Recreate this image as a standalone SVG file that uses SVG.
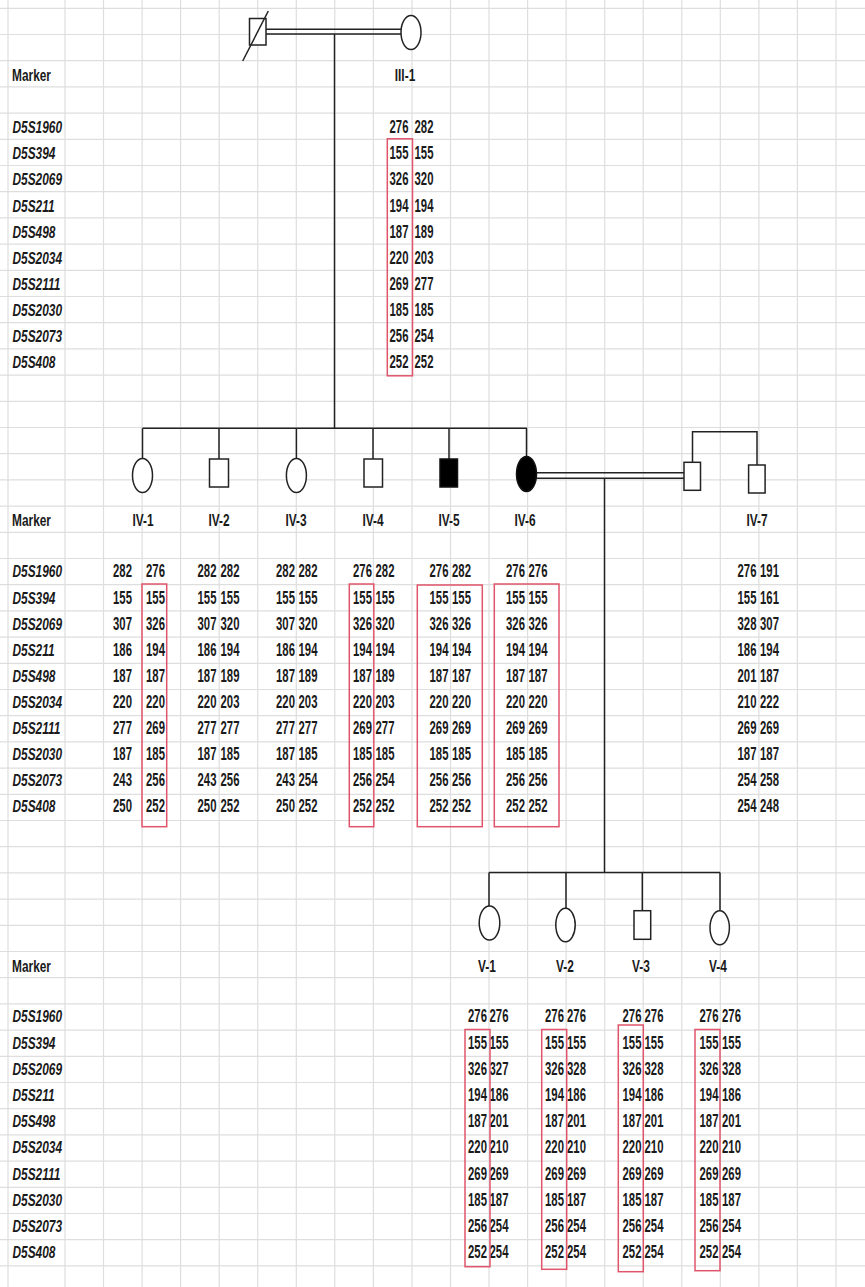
<svg xmlns="http://www.w3.org/2000/svg" width="865" height="1287" viewBox="0 0 865 1287">
<style>
.grid{stroke:#dedede;stroke-width:1.2;fill:none}
.ln{stroke:#222;stroke-width:1.5;fill:none}
.sym{stroke:#222;stroke-width:1.5;fill:#fff}
.aff{stroke:#111;stroke-width:1.5;fill:#000}
.box{stroke:#e0556b;stroke-width:1.5;fill:none}
text{font-family:"Liberation Sans",Arial,sans-serif;font-size:17px;font-weight:bold;fill:#1a1a1a;text-anchor:middle}
.n{font-size:18px}
.m{font-style:italic;text-anchor:start}
.h{text-anchor:start}
</style>
<rect width="865" height="1287" fill="#fff"/>
<path class="grid" d="M0 8.3H865M0 34.5H865M0 60.7H865M0 86.9H865M0 113.1H865M0 139.3H865M0 165.5H865M0 191.7H865M0 217.9H865M0 244.1H865M0 270.3H865M0 296.5H865M0 322.7H865M0 348.9H865M0 375.1H865M0 401.3H865M0 427.5H865M0 453.7H865M0 479.9H865M0 506.1H865M0 532.3H865M0 558.5H865M0 584.7H865M0 610.9H865M0 637.1H865M0 663.3H865M0 689.5H865M0 715.7H865M0 741.9H865M0 768.1H865M0 794.3H865M0 820.5H865M0 846.7H865M0 872.9H865M0 899.1H865M0 925.3H865M0 951.5H865M0 977.7H865M0 1003.9H865M0 1030.1H865M0 1056.3H865M0 1082.5H865M0 1108.7H865M0 1134.9H865M0 1161.1H865M0 1187.3H865M0 1213.5H865M0 1239.7H865M0 1265.9H865M8 0V1287M65 0V1287M103.5 0V1287M142.1 0V1287M180.6 0V1287M219.2 0V1287M257.7 0V1287M296.3 0V1287M334.8 0V1287M373.4 0V1287M412 0V1287M450.5 0V1287M489 0V1287M527.6 0V1287M566.1 0V1287M604.7 0V1287M643.2 0V1287M681.8 0V1287M720.3 0V1287M758.9 0V1287M797.4 0V1287M836 0V1287"/>

<g id="connectors">
<path class="ln" d="M266 29.3H401M266 34H401"/>
<path class="ln" d="M334.5 34V428.3"/>
<path class="ln" d="M142.5 428.3H527M142.5 428.3V458.5M219 428.3V459M296.4 428.3V458.5M373 428.3V459M449 428.3V459M526.5 428.3V457"/>
<path class="ln" d="M536.5 472.7H684M536.5 478.3H684"/>
<path class="ln" d="M604.5 478.3V872.5"/>
<path class="ln" d="M692.5 462.3V431.7H757V465"/>
<path class="ln" d="M489 872.5H720M489 872.5V906M566 872.5V908.3M642.3 872.5V910.7M720 872.5V910.7"/>
</g>

<g id="markers">
<g transform="translate(12 0) scale(.7 1)"><text class="h" x="0" y="81.5">Marker</text><text class="h" x="0" y="526">Marker</text><text class="h" x="0" y="972">Marker</text></g>
<g transform="translate(12.5 0) scale(.7 1)">
<text class="m" y="133.3"><tspan x="0">D5S1960</tspan><tspan x="0" dy="26.1">D5S394</tspan><tspan x="0" dy="26.1">D5S2069</tspan><tspan x="0" dy="26.1">D5S211</tspan><tspan x="0" dy="26.1">D5S498</tspan><tspan x="0" dy="26.1">D5S2034</tspan><tspan x="0" dy="26.1">D5S2111</tspan><tspan x="0" dy="26.1">D5S2030</tspan><tspan x="0" dy="26.1">D5S2073</tspan><tspan x="0" dy="26.1">D5S408</tspan></text>
<text class="m" y="577.5"><tspan x="0">D5S1960</tspan><tspan x="0" dy="26.1">D5S394</tspan><tspan x="0" dy="26.1">D5S2069</tspan><tspan x="0" dy="26.1">D5S211</tspan><tspan x="0" dy="26.1">D5S498</tspan><tspan x="0" dy="26.1">D5S2034</tspan><tspan x="0" dy="26.1">D5S2111</tspan><tspan x="0" dy="26.1">D5S2030</tspan><tspan x="0" dy="26.1">D5S2073</tspan><tspan x="0" dy="26.1">D5S408</tspan></text>
<text class="m" y="1022.5"><tspan x="0">D5S1960</tspan><tspan x="0" dy="26.2">D5S394</tspan><tspan x="0" dy="26.2">D5S2069</tspan><tspan x="0" dy="26.2">D5S211</tspan><tspan x="0" dy="26.2">D5S498</tspan><tspan x="0" dy="26.2">D5S2034</tspan><tspan x="0" dy="26.2">D5S2111</tspan><tspan x="0" dy="26.2">D5S2030</tspan><tspan x="0" dy="26.2">D5S2073</tspan><tspan x="0" dy="26.2">D5S408</tspan></text>
</g>
</g>

<g id="III-father">
<rect class="sym" x="249.5" y="18.5" width="16.5" height="26.5"/>
<path class="ln" d="M242.7 61L268.3 11"/>
</g>

<g id="III-1">
<ellipse class="sym" cx="411" cy="32.5" rx="10" ry="17"/>
<g transform="translate(405 0) scale(.7 1)"><text x="0" y="81.5">III-1</text></g>
<g transform="translate(399 0) scale(.63 1)"><text class="n" y="133.3"><tspan x="0">276</tspan><tspan x="0" dy="26.1">155</tspan><tspan x="0" dy="26.1">326</tspan><tspan x="0" dy="26.1">194</tspan><tspan x="0" dy="26.1">187</tspan><tspan x="0" dy="26.1">220</tspan><tspan x="0" dy="26.1">269</tspan><tspan x="0" dy="26.1">185</tspan><tspan x="0" dy="26.1">256</tspan><tspan x="0" dy="26.1">252</tspan></text></g>
<g transform="translate(424 0) scale(.63 1)"><text class="n" y="133.3"><tspan x="0">282</tspan><tspan x="0" dy="26.1">155</tspan><tspan x="0" dy="26.1">320</tspan><tspan x="0" dy="26.1">194</tspan><tspan x="0" dy="26.1">189</tspan><tspan x="0" dy="26.1">203</tspan><tspan x="0" dy="26.1">277</tspan><tspan x="0" dy="26.1">185</tspan><tspan x="0" dy="26.1">254</tspan><tspan x="0" dy="26.1">252</tspan></text></g>
<rect class="box" x="387.3" y="138.8" width="25.2" height="237"/>
</g>

<g id="IV-1">
<ellipse class="sym" cx="142.5" cy="475.5" rx="10" ry="17"/>
<g transform="translate(143 0) scale(.7 1)"><text x="0" y="526">IV-1</text></g>
<g transform="translate(122.5 0) scale(.63 1)"><text class="n" y="577.5"><tspan x="0">282</tspan><tspan x="0" dy="26.1">155</tspan><tspan x="0" dy="26.1">307</tspan><tspan x="0" dy="26.1">186</tspan><tspan x="0" dy="26.1">187</tspan><tspan x="0" dy="26.1">220</tspan><tspan x="0" dy="26.1">277</tspan><tspan x="0" dy="26.1">187</tspan><tspan x="0" dy="26.1">243</tspan><tspan x="0" dy="26.1">250</tspan></text></g>
<g transform="translate(155.5 0) scale(.63 1)"><text class="n" y="577.5"><tspan x="0">276</tspan><tspan x="0" dy="26.1">155</tspan><tspan x="0" dy="26.1">326</tspan><tspan x="0" dy="26.1">194</tspan><tspan x="0" dy="26.1">187</tspan><tspan x="0" dy="26.1">220</tspan><tspan x="0" dy="26.1">269</tspan><tspan x="0" dy="26.1">185</tspan><tspan x="0" dy="26.1">256</tspan><tspan x="0" dy="26.1">252</tspan></text></g>
<rect class="box" x="142" y="584" width="24.7" height="242.7"/>
</g>

<g id="IV-2">
<rect class="sym" x="209.5" y="459" width="19" height="28"/>
<g transform="translate(219 0) scale(.7 1)"><text x="0" y="526">IV-2</text></g>
<g transform="translate(207 0) scale(.63 1)"><text class="n" y="577.5"><tspan x="0">282</tspan><tspan x="0" dy="26.1">155</tspan><tspan x="0" dy="26.1">307</tspan><tspan x="0" dy="26.1">186</tspan><tspan x="0" dy="26.1">187</tspan><tspan x="0" dy="26.1">220</tspan><tspan x="0" dy="26.1">277</tspan><tspan x="0" dy="26.1">187</tspan><tspan x="0" dy="26.1">243</tspan><tspan x="0" dy="26.1">250</tspan></text></g>
<g transform="translate(230 0) scale(.63 1)"><text class="n" y="577.5"><tspan x="0">282</tspan><tspan x="0" dy="26.1">155</tspan><tspan x="0" dy="26.1">320</tspan><tspan x="0" dy="26.1">194</tspan><tspan x="0" dy="26.1">189</tspan><tspan x="0" dy="26.1">203</tspan><tspan x="0" dy="26.1">277</tspan><tspan x="0" dy="26.1">185</tspan><tspan x="0" dy="26.1">256</tspan><tspan x="0" dy="26.1">252</tspan></text></g>
</g>

<g id="IV-3">
<ellipse class="sym" cx="296.4" cy="475.5" rx="10" ry="17"/>
<g transform="translate(296 0) scale(.7 1)"><text x="0" y="526">IV-3</text></g>
<g transform="translate(285.5 0) scale(.63 1)"><text class="n" y="577.5"><tspan x="0">282</tspan><tspan x="0" dy="26.1">155</tspan><tspan x="0" dy="26.1">307</tspan><tspan x="0" dy="26.1">186</tspan><tspan x="0" dy="26.1">187</tspan><tspan x="0" dy="26.1">220</tspan><tspan x="0" dy="26.1">277</tspan><tspan x="0" dy="26.1">187</tspan><tspan x="0" dy="26.1">243</tspan><tspan x="0" dy="26.1">250</tspan></text></g>
<g transform="translate(308 0) scale(.63 1)"><text class="n" y="577.5"><tspan x="0">282</tspan><tspan x="0" dy="26.1">155</tspan><tspan x="0" dy="26.1">320</tspan><tspan x="0" dy="26.1">194</tspan><tspan x="0" dy="26.1">189</tspan><tspan x="0" dy="26.1">203</tspan><tspan x="0" dy="26.1">277</tspan><tspan x="0" dy="26.1">185</tspan><tspan x="0" dy="26.1">254</tspan><tspan x="0" dy="26.1">252</tspan></text></g>
</g>

<g id="IV-4">
<rect class="sym" x="364" y="459" width="18.5" height="28"/>
<g transform="translate(373 0) scale(.7 1)"><text x="0" y="526">IV-4</text></g>
<g transform="translate(362.5 0) scale(.63 1)"><text class="n" y="577.5"><tspan x="0">276</tspan><tspan x="0" dy="26.1">155</tspan><tspan x="0" dy="26.1">326</tspan><tspan x="0" dy="26.1">194</tspan><tspan x="0" dy="26.1">187</tspan><tspan x="0" dy="26.1">220</tspan><tspan x="0" dy="26.1">269</tspan><tspan x="0" dy="26.1">185</tspan><tspan x="0" dy="26.1">256</tspan><tspan x="0" dy="26.1">252</tspan></text></g>
<g transform="translate(385 0) scale(.63 1)"><text class="n" y="577.5"><tspan x="0">282</tspan><tspan x="0" dy="26.1">155</tspan><tspan x="0" dy="26.1">320</tspan><tspan x="0" dy="26.1">194</tspan><tspan x="0" dy="26.1">189</tspan><tspan x="0" dy="26.1">203</tspan><tspan x="0" dy="26.1">277</tspan><tspan x="0" dy="26.1">185</tspan><tspan x="0" dy="26.1">254</tspan><tspan x="0" dy="26.1">252</tspan></text></g>
<rect class="box" x="349.3" y="584" width="24.5" height="242.7"/>
</g>

<g id="IV-5">
<rect class="aff" x="440" y="459" width="17.5" height="28"/>
<g transform="translate(449 0) scale(.7 1)"><text x="0" y="526">IV-5</text></g>
<g transform="translate(439 0) scale(.63 1)"><text class="n" y="577.5"><tspan x="0">276</tspan><tspan x="0" dy="26.1">155</tspan><tspan x="0" dy="26.1">326</tspan><tspan x="0" dy="26.1">194</tspan><tspan x="0" dy="26.1">187</tspan><tspan x="0" dy="26.1">220</tspan><tspan x="0" dy="26.1">269</tspan><tspan x="0" dy="26.1">185</tspan><tspan x="0" dy="26.1">256</tspan><tspan x="0" dy="26.1">252</tspan></text></g>
<g transform="translate(461.5 0) scale(.63 1)"><text class="n" y="577.5"><tspan x="0">282</tspan><tspan x="0" dy="26.1">155</tspan><tspan x="0" dy="26.1">326</tspan><tspan x="0" dy="26.1">194</tspan><tspan x="0" dy="26.1">187</tspan><tspan x="0" dy="26.1">220</tspan><tspan x="0" dy="26.1">269</tspan><tspan x="0" dy="26.1">185</tspan><tspan x="0" dy="26.1">256</tspan><tspan x="0" dy="26.1">252</tspan></text></g>
<rect class="box" x="417.3" y="585" width="65" height="241.7"/>
</g>

<g id="IV-6">
<ellipse class="aff" cx="526.5" cy="474" rx="10" ry="17.5"/>
<g transform="translate(525 0) scale(.7 1)"><text x="0" y="526">IV-6</text></g>
<g transform="translate(515.5 0) scale(.63 1)"><text class="n" y="577.5"><tspan x="0">276</tspan><tspan x="0" dy="26.1">155</tspan><tspan x="0" dy="26.1">326</tspan><tspan x="0" dy="26.1">194</tspan><tspan x="0" dy="26.1">187</tspan><tspan x="0" dy="26.1">220</tspan><tspan x="0" dy="26.1">269</tspan><tspan x="0" dy="26.1">185</tspan><tspan x="0" dy="26.1">256</tspan><tspan x="0" dy="26.1">252</tspan></text></g>
<g transform="translate(538 0) scale(.63 1)"><text class="n" y="577.5"><tspan x="0">276</tspan><tspan x="0" dy="26.1">155</tspan><tspan x="0" dy="26.1">326</tspan><tspan x="0" dy="26.1">194</tspan><tspan x="0" dy="26.1">187</tspan><tspan x="0" dy="26.1">220</tspan><tspan x="0" dy="26.1">269</tspan><tspan x="0" dy="26.1">185</tspan><tspan x="0" dy="26.1">256</tspan><tspan x="0" dy="26.1">252</tspan></text></g>
<rect class="box" x="494.3" y="584" width="64.7" height="242.7"/>
</g>

<g id="IV-6-spouse">
<rect class="sym" x="684" y="462.3" width="16.5" height="28"/>
</g>

<g id="IV-7">
<rect class="sym" x="748.6" y="465" width="16.5" height="28"/>
<g transform="translate(757 0) scale(.7 1)"><text x="0" y="526">IV-7</text></g>
<g transform="translate(747 0) scale(.63 1)"><text class="n" y="577.5"><tspan x="0">276</tspan><tspan x="0" dy="26.1">155</tspan><tspan x="0" dy="26.1">328</tspan><tspan x="0" dy="26.1">186</tspan><tspan x="0" dy="26.1">201</tspan><tspan x="0" dy="26.1">210</tspan><tspan x="0" dy="26.1">269</tspan><tspan x="0" dy="26.1">187</tspan><tspan x="0" dy="26.1">254</tspan><tspan x="0" dy="26.1">254</tspan></text></g>
<g transform="translate(769.5 0) scale(.63 1)"><text class="n" y="577.5"><tspan x="0">191</tspan><tspan x="0" dy="26.1">161</tspan><tspan x="0" dy="26.1">307</tspan><tspan x="0" dy="26.1">194</tspan><tspan x="0" dy="26.1">187</tspan><tspan x="0" dy="26.1">222</tspan><tspan x="0" dy="26.1">269</tspan><tspan x="0" dy="26.1">187</tspan><tspan x="0" dy="26.1">258</tspan><tspan x="0" dy="26.1">248</tspan></text></g>
</g>

<g id="V-1">
<ellipse class="sym" cx="489.5" cy="923" rx="10.3" ry="17"/>
<g transform="translate(487 0) scale(.7 1)"><text x="0" y="972">V-1</text></g>
<g transform="translate(477.5 0) scale(.63 1)"><text class="n" y="1022.5"><tspan x="0">276</tspan><tspan x="0" dy="26.2">155</tspan><tspan x="0" dy="26.2">326</tspan><tspan x="0" dy="26.2">194</tspan><tspan x="0" dy="26.2">187</tspan><tspan x="0" dy="26.2">220</tspan><tspan x="0" dy="26.2">269</tspan><tspan x="0" dy="26.2">185</tspan><tspan x="0" dy="26.2">256</tspan><tspan x="0" dy="26.2">252</tspan></text></g>
<g transform="translate(499 0) scale(.63 1)"><text class="n" y="1022.5"><tspan x="0">276</tspan><tspan x="0" dy="26.2">155</tspan><tspan x="0" dy="26.2">327</tspan><tspan x="0" dy="26.2">186</tspan><tspan x="0" dy="26.2">201</tspan><tspan x="0" dy="26.2">210</tspan><tspan x="0" dy="26.2">269</tspan><tspan x="0" dy="26.2">187</tspan><tspan x="0" dy="26.2">254</tspan><tspan x="0" dy="26.2">254</tspan></text></g>
<rect class="box" x="465" y="1029.5" width="25" height="237.2"/>
</g>

<g id="V-2">
<ellipse class="sym" cx="565.5" cy="925" rx="9.7" ry="16.7"/>
<g transform="translate(565 0) scale(.7 1)"><text x="0" y="972">V-2</text></g>
<g transform="translate(554.5 0) scale(.63 1)"><text class="n" y="1022.5"><tspan x="0">276</tspan><tspan x="0" dy="26.2">155</tspan><tspan x="0" dy="26.2">326</tspan><tspan x="0" dy="26.2">194</tspan><tspan x="0" dy="26.2">187</tspan><tspan x="0" dy="26.2">220</tspan><tspan x="0" dy="26.2">269</tspan><tspan x="0" dy="26.2">185</tspan><tspan x="0" dy="26.2">256</tspan><tspan x="0" dy="26.2">252</tspan></text></g>
<g transform="translate(576.5 0) scale(.63 1)"><text class="n" y="1022.5"><tspan x="0">276</tspan><tspan x="0" dy="26.2">155</tspan><tspan x="0" dy="26.2">328</tspan><tspan x="0" dy="26.2">186</tspan><tspan x="0" dy="26.2">201</tspan><tspan x="0" dy="26.2">210</tspan><tspan x="0" dy="26.2">269</tspan><tspan x="0" dy="26.2">187</tspan><tspan x="0" dy="26.2">254</tspan><tspan x="0" dy="26.2">254</tspan></text></g>
<rect class="box" x="541.7" y="1029.5" width="25" height="239.8"/>
</g>

<g id="V-3">
<rect class="sym" x="634" y="910.7" width="16.7" height="28.6"/>
<g transform="translate(641 0) scale(.7 1)"><text x="0" y="972">V-3</text></g>
<g transform="translate(632 0) scale(.63 1)"><text class="n" y="1022.5"><tspan x="0">276</tspan><tspan x="0" dy="26.2">155</tspan><tspan x="0" dy="26.2">326</tspan><tspan x="0" dy="26.2">194</tspan><tspan x="0" dy="26.2">187</tspan><tspan x="0" dy="26.2">220</tspan><tspan x="0" dy="26.2">269</tspan><tspan x="0" dy="26.2">185</tspan><tspan x="0" dy="26.2">256</tspan><tspan x="0" dy="26.2">252</tspan></text></g>
<g transform="translate(654 0) scale(.63 1)"><text class="n" y="1022.5"><tspan x="0">276</tspan><tspan x="0" dy="26.2">155</tspan><tspan x="0" dy="26.2">328</tspan><tspan x="0" dy="26.2">186</tspan><tspan x="0" dy="26.2">201</tspan><tspan x="0" dy="26.2">210</tspan><tspan x="0" dy="26.2">269</tspan><tspan x="0" dy="26.2">187</tspan><tspan x="0" dy="26.2">254</tspan><tspan x="0" dy="26.2">254</tspan></text></g>
<rect class="box" x="618.3" y="1025" width="25" height="246.7"/>
</g>

<g id="V-4">
<ellipse class="sym" cx="719.7" cy="927.8" rx="9.7" ry="17"/>
<g transform="translate(718 0) scale(.7 1)"><text x="0" y="972">V-4</text></g>
<g transform="translate(709 0) scale(.63 1)"><text class="n" y="1022.5"><tspan x="0">276</tspan><tspan x="0" dy="26.2">155</tspan><tspan x="0" dy="26.2">326</tspan><tspan x="0" dy="26.2">194</tspan><tspan x="0" dy="26.2">187</tspan><tspan x="0" dy="26.2">220</tspan><tspan x="0" dy="26.2">269</tspan><tspan x="0" dy="26.2">185</tspan><tspan x="0" dy="26.2">256</tspan><tspan x="0" dy="26.2">252</tspan></text></g>
<g transform="translate(731.5 0) scale(.63 1)"><text class="n" y="1022.5"><tspan x="0">276</tspan><tspan x="0" dy="26.2">155</tspan><tspan x="0" dy="26.2">328</tspan><tspan x="0" dy="26.2">186</tspan><tspan x="0" dy="26.2">201</tspan><tspan x="0" dy="26.2">210</tspan><tspan x="0" dy="26.2">269</tspan><tspan x="0" dy="26.2">187</tspan><tspan x="0" dy="26.2">254</tspan><tspan x="0" dy="26.2">254</tspan></text></g>
<rect class="box" x="695" y="1029.5" width="25" height="241.2"/>
</g>
</svg>
